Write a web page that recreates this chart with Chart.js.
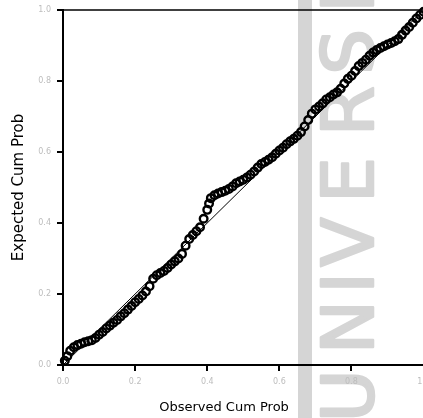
<!DOCTYPE html>
<html>
<head>
<meta charset="utf-8">
<script src="https://cdn.jsdelivr.net/npm/chart.js@4.4.1/dist/chart.umd.min.js"></script>
<style>
  html, body { margin: 0; padding: 0; background: #fff; overflow: hidden; }
  #grafico { display: block; }
</style>
</head>
<body>
<canvas id="grafico" width="430" height="418"></canvas>
<script>
// --- dados (P-P plot) ---
const obsCumProb = [
  0.005, 0.012, 0.02, 0.03, 0.04, 0.05, 0.06, 0.07, 0.08, 0.09,
  0.10, 0.11, 0.12, 0.13, 0.14, 0.15, 0.16, 0.17, 0.18, 0.19,
  0.20, 0.21, 0.22, 0.23, 0.24, 0.25, 0.26, 0.27, 0.28, 0.29,
  0.30, 0.31, 0.32, 0.33, 0.34, 0.35, 0.36, 0.37, 0.38, 0.39,
  0.40, 0.405, 0.41, 0.42, 0.43, 0.44, 0.45, 0.46, 0.47, 0.48,
  0.49, 0.50, 0.51, 0.52, 0.53, 0.54, 0.55, 0.56, 0.57, 0.58,
  0.59, 0.60, 0.61, 0.62, 0.63, 0.64, 0.65, 0.66, 0.67, 0.68,
  0.69, 0.70, 0.71, 0.72, 0.73, 0.74, 0.75, 0.76, 0.77, 0.78,
  0.79, 0.80, 0.81, 0.82, 0.83, 0.84, 0.85, 0.86, 0.87, 0.88,
  0.89, 0.90, 0.91, 0.92, 0.93, 0.94, 0.95, 0.96, 0.97, 0.98,
  0.99, 1.00
];
const expCumProb = [
  0.012, 0.025, 0.040, 0.050, 0.056, 0.060, 0.064, 0.067, 0.070, 0.076,
  0.085, 0.093, 0.103, 0.111, 0.119, 0.127, 0.137, 0.146, 0.156, 0.166,
  0.177, 0.186, 0.196, 0.207, 0.222, 0.243, 0.253, 0.259, 0.265, 0.273,
  0.283, 0.292, 0.300, 0.313, 0.336, 0.355, 0.366, 0.377, 0.388, 0.412,
  0.437, 0.455, 0.470, 0.478, 0.483, 0.487, 0.491, 0.496, 0.503, 0.512,
  0.517, 0.522, 0.528, 0.536, 0.545, 0.556, 0.566, 0.572, 0.578, 0.585,
  0.595, 0.604, 0.612, 0.622, 0.630, 0.637, 0.646, 0.656, 0.672, 0.690,
  0.708, 0.720, 0.728, 0.737, 0.748, 0.754, 0.762, 0.768, 0.778, 0.793,
  0.806, 0.815, 0.828, 0.842, 0.851, 0.860, 0.871, 0.880, 0.887, 0.893,
  0.898, 0.903, 0.907, 0.912, 0.918, 0.930, 0.942, 0.952, 0.964, 0.976,
  0.986, 0.995
];
const refLineX = [0, 1];
const refLineY = [0, 1];
const tickValues = [0, 0.2, 0.4, 0.6, 0.8, 1.0];

const pontos = obsCumProb.map((x, i) => ({ x: x, y: expCumProb[i] }));
const diagonal = refLineX.map((x, i) => ({ x: x, y: refLineY[i] }));

// marca d'água cinza do scan (fundo)
const marcaDagua = {
  id: 'marcaDagua',
  beforeDraw(chart) {
    const c = chart.ctx;
    c.save();
    c.fillStyle = '#d5d5d5';
    c.strokeStyle = '#d5d5d5';
    c.lineWidth = 2.5;
    c.lineJoin = 'round';
    c.fillRect(298, 0, 14, chart.height);
    c.font = '72px "DejaVu Sans"';
    c.textAlign = 'center';
    c.textBaseline = 'middle';
    const letras = [['U', 396], ['N', 327], ['I', 283], ['V', 242], ['E', 180], ['R', 111], ['S', 52], ['I', 2]];
    letras.forEach(([l, cy]) => {
      c.save();
      c.translate(354, cy);
      c.rotate(-Math.PI / 2);
      c.fillText(l, 0, 0);
      c.strokeText(l, 0, 0);
      c.restore();
    });
    c.restore();
  }
};

// borda superior e título do eixo x
const extras = {
  id: 'extras',
  afterDraw(chart) {
    const a = chart.chartArea;
    const c = chart.ctx;
    c.save();
    c.strokeStyle = '#000';
    c.lineWidth = 1.5;
    c.beginPath();
    c.moveTo(a.left, a.top);
    c.lineTo(a.right, a.top);
    c.stroke();
    c.fillStyle = '#000';
    c.font = '13px "DejaVu Sans"';
    c.textAlign = 'center';
    c.textBaseline = 'middle';
    c.fillText('Observed Cum Prob', 224, 408);
    c.restore();
  }
};

const eixoComum = {
  type: 'linear',
  min: 0,
  max: 1,
  afterBuildTicks: (s) => { s.ticks = tickValues.map(v => ({ value: v })); },
  ticks: {
    color: '#bdbdbd',
    font: { family: 'DejaVu Sans', size: 8 },
    padding: 6,
    callback: (v) => v.toFixed(1)
  },
  grid: {
    display: true,
    drawOnChartArea: false,
    drawTicks: true,
    tickLength: 6,
    color: '#000',
    lineWidth: 2
  },
  border: { display: true, color: '#000', width: 2 }
};

new Chart(document.getElementById('grafico'), {
  type: 'scatter',
  data: {
    datasets: [
      {
        label: 'Diagonal',
        data: diagonal,
        showLine: true,
        borderColor: '#000',
        borderWidth: 1,
        pointRadius: 0,
        fill: false
      },
      {
        label: 'Observed',
        data: pontos,
        showLine: false,
        pointStyle: 'circle',
        pointRadius: 3.8,
        pointBorderWidth: 2.4,
        pointBorderColor: '#000',
        pointBackgroundColor: 'rgba(255,255,255,0)',
        clip: false
      }
    ]
  },
  options: {
    responsive: false,
    animation: false,
    devicePixelRatio: 1,
    layout: { padding: { top: 10, right: 0, left: 0, bottom: 0 } },
    plugins: {
      legend: { display: false },
      tooltip: { enabled: false }
    },
    scales: {
      x: Object.assign({}, eixoComum, {
        position: 'bottom',
        afterFit: (s) => { s.height = 53; s.paddingLeft = 0; s.paddingRight = 0; }
      }),
      y: Object.assign({}, eixoComum, {
        position: 'left',
        title: {
          display: true,
          text: 'Expected Cum Prob',
          color: '#000',
          font: { family: 'DejaVu Sans', size: 15 },
          padding: { top: 10, bottom: 0 }
        },
        afterFit: (s) => { s.width = 63; s.paddingTop = 0; s.paddingBottom = 0; }
      })
    }
  },
  plugins: [marcaDagua, extras]
});
</script>
</body>
</html>
